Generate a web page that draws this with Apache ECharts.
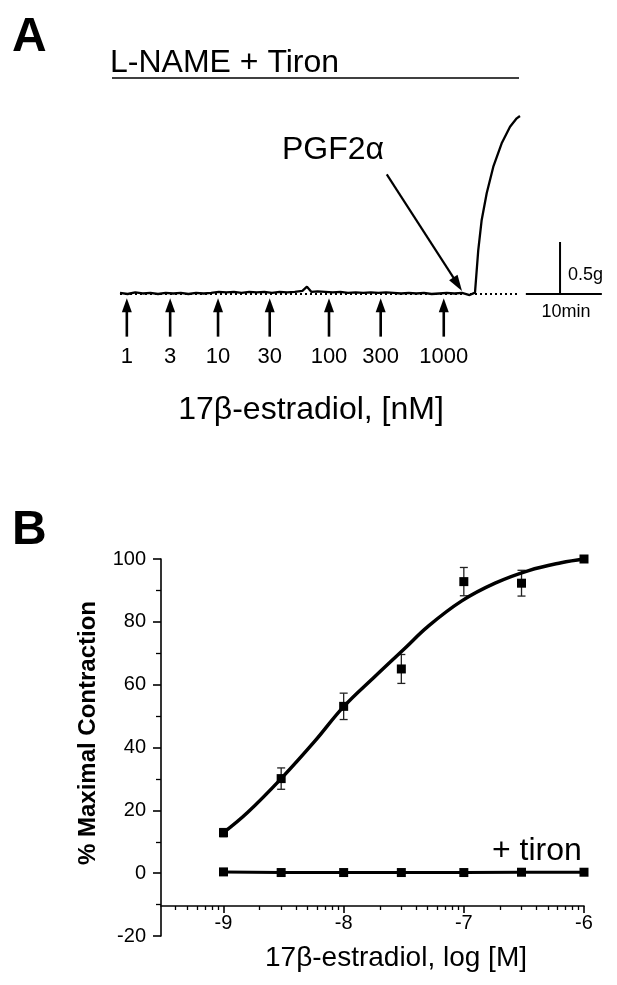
<!DOCTYPE html>
<html><head><meta charset="utf-8">
<script src="https://cdn.jsdelivr.net/npm/echarts@6/dist/echarts.min.js"></script>
<style>html,body{margin:0;padding:0;background:#fff}#c{width:617px;height:985px}</style>
</head><body><div id="c"></div>
<script>
// ---------- Panel A data (time in min, tension in g) ----------
const doseLabels = ['1', '3', '10', '30', '100', '300', '1000'];
const doseTimes = [0.9, 6.6, 12.9, 19.7, 27.5, 34.3, 42.6];
const traceT = [0,1,2,3,4,5,6,7,8,9,10,11,12,13,14,15,16,17,18,19,20,21,22,23,24,24.6,25.2,26,27,28,29,30,31,32,33,34,35,36,37,38,39,40,41,42,43,44,45,46,46.71,47.14,47.59,48.25,49.12,50.22,51.32,52.2,52.63];
const traceG = [0.01,0.0,0.015,0.005,0.01,0.0,0.01,0.005,0.01,0.0,0.01,0.005,0.01,0.02,0.015,0.02,0.01,0.02,0.015,0.02,0.01,0.02,0.015,0.02,0.03,0.07,0.02,0.025,0.02,0.015,0.02,0.01,0.015,0.01,0.015,0.01,0.015,0.01,0.005,0.01,0.005,0.01,0.0,0.005,0.01,0.005,0.01,-0.01,0.013,0.423,0.712,0.968,1.224,1.449,1.609,1.689,1.712];
const baselineEnd = 52.6;
const pgfTime = 45.0;
const pgfArrowFrom = [35.1, 1.15];
const scaleBarStart = 53.4, scaleBarMin = 10, scaleBarG = 0.5, scaleBarVertAt = 57.9;

// ---------- Panel B data ----------
const logConc = [-9, -8.52, -8, -7.52, -7, -6.52, -6];
const ctrlMean = [12.9, 30.1, 53.1, 65.0, 92.8, 92.3, 100.0];
const ctrlErr = [1.3, 3.4, 4.2, 4.6, 4.5, 4.1, 0];
const tironMean = [0.4, 0.2, 0.2, 0.2, 0.2, 0.3, 0.3];
const fitX = [-9, -8.8, -8.52, -8.24, -8, -7.74, -7.49, -7.3, -7.02, -6.74, -6.46, -6.19, -6];
const fitY = [12.9, 19.3, 30.1, 42.0, 53.0, 62.6, 71.6, 78.5, 86.6, 92.3, 96.3, 98.8, 100.0];
const xMajorTicks = [-9, -8, -7, -6];
const yTicks = [-20, 0, 20, 40, 60, 80, 100];

const FONT = "'Liberation Sans', Arial, Helvetica, sans-serif";
const xMinB = -9.52, xMaxB = -6;
const xMinorTicks = [];
for (let d = -10; d <= -7; d++) for (let k = 2; k <= 9; k++) {
  const v = Math.log10(k) + d;
  if (v > xMinB && v < xMaxB) xMinorTicks.push(v);
}

function arrow(api, from, to, headLen, headW, lw) {
  const p0 = api.coord(from), p1 = api.coord(to);
  const dx = p1[0] - p0[0], dy = p1[1] - p0[1], L = Math.hypot(dx, dy);
  const ux = dx / L, uy = dy / L;
  const bx = p1[0] - ux * headLen, by = p1[1] - uy * headLen;
  const nx = -uy, ny = ux;
  return { type: 'group', children: [
    { type: 'line', shape: { x1: p0[0], y1: p0[1], x2: bx + ux * 2, y2: by + uy * 2 }, style: { stroke: '#000', lineWidth: lw } },
    { type: 'polygon', shape: { points: [[p1[0], p1[1]], [bx + nx * headW / 2, by + ny * headW / 2], [bx - nx * headW / 2, by - ny * headW / 2]] }, style: { fill: '#000' } }
  ]};
}

const chart = echarts.init(document.getElementById('c'), null, { renderer: 'canvas' });
const option = {
  backgroundColor: '#fff',
  animation: false,
  textStyle: { fontFamily: FONT },
  grid: [
    { left: 120, right: 10.6, top: 106.8, bottom: 649.4 },
    { left: 161, right: 33, top: 559, bottom: 49 },
    { left: 161, right: 33, top: 559, bottom: 79 }
  ],
  xAxis: [
    { gridIndex: 0, type: 'value', min: 0, max: 64,
      axisLine: { show: false }, axisTick: { show: false }, splitLine: { show: false },
      axisLabel: { customValues: doseTimes, margin: 10, fontSize: 22, color: '#000', fontFamily: FONT,
        formatter: v => { let bi = 0; doseTimes.forEach((t, i) => { if (Math.abs(t - v) < Math.abs(doseTimes[bi] - v)) bi = i; }); return doseLabels[bi]; } } },
    { gridIndex: 1, type: 'value', min: xMinB, max: xMaxB, show: false },
    { gridIndex: 2, type: 'value', min: xMinB, max: xMaxB,
      axisLine: { show: true, onZero: false, lineStyle: { color: '#000', width: 1.6 } },
      axisTick: { show: true, customValues: xMajorTicks, length: 7, lineStyle: { color: '#000', width: 1.6 } },
      axisLabel: { customValues: xMajorTicks, fontSize: 20, color: '#000', margin: 7, fontFamily: FONT },
      splitLine: { show: false } },
    { gridIndex: 2, type: 'value', min: xMinB, max: xMaxB, position: 'bottom',
      axisLine: { show: false },
      axisTick: { show: true, customValues: xMinorTicks, length: 4, lineStyle: { color: '#000', width: 1.3 } },
      axisLabel: { show: false }, splitLine: { show: false } }
  ],
  yAxis: [
    { gridIndex: 0, type: 'value', min: -0.4, max: 1.8, show: false },
    { gridIndex: 1, type: 'value', min: -20, max: 100, interval: 20,
      axisLine: { show: true, lineStyle: { color: '#000', width: 1.6 } },
      axisTick: { show: true, length: 8, lineStyle: { color: '#000', width: 1.6 } },
      minorTick: { show: true, splitNumber: 2, length: 5, lineStyle: { color: '#000', width: 1.3 } },
      axisLabel: { fontSize: 20, color: '#000', margin: 15, fontFamily: FONT },
      splitLine: { show: false } },
    { gridIndex: 2, type: 'value', min: 0, max: 1, show: false }
  ],
  graphic: [
    { type: 'text', left: 12, top: 14, style: { text: 'A', font: 'bold 48px ' + FONT, fill: '#000' } },
    { type: 'text', left: 12, top: 507, style: { text: 'B', font: 'bold 48px ' + FONT, fill: '#000' } },
    { type: 'text', x: 110, y: 63, style: { text: 'L-NAME + Tiron', font: '32px ' + FONT, fill: '#000', verticalAlign: 'middle' } },
    { type: 'line', shape: { x1: 112, y1: 78, x2: 519, y2: 78 }, style: { stroke: '#000', lineWidth: 1.6 } },
    { type: 'text', x: 282, y: 150, style: { text: 'PGF2α', font: '32px ' + FONT, fill: '#000', verticalAlign: 'middle' } },
    { type: 'text', x: 311, y: 410, style: { text: '17β-estradiol, [nM]', font: '32px ' + FONT, fill: '#000', align: 'center', verticalAlign: 'middle' } },
    { type: 'text', x: 568, y: 275, style: { text: '0.5g', font: '18px ' + FONT, fill: '#000', verticalAlign: 'middle' } },
    { type: 'text', x: 566, y: 312, style: { text: '10min', font: '18px ' + FONT, fill: '#000', align: 'center', verticalAlign: 'middle' } },
    { type: 'text', x: 396, y: 958, style: { text: '17β-estradiol, log [M]', font: '28px ' + FONT, fill: '#000', align: 'center', verticalAlign: 'middle' } },
    { type: 'text', x: 88, y: 733, rotation: Math.PI / 2, style: { text: '% Maximal Contraction', font: 'bold 24px ' + FONT, fill: '#000', align: 'center', verticalAlign: 'middle' } },
    { type: 'text', x: 492, y: 851, style: { text: '+ tiron', font: '32px ' + FONT, fill: '#000', verticalAlign: 'middle' } }
  ],
  series: [
    // Panel A: dotted baseline
    { type: 'line', xAxisIndex: 0, yAxisIndex: 0, data: [[0, 0], [baselineEnd, 0]], showSymbol: false, silent: true,
      lineStyle: { color: '#000', width: 2, type: [2, 3] } },
    // Panel A: tension trace
    { type: 'line', xAxisIndex: 0, yAxisIndex: 0, data: traceT.map((t, i) => [t, traceG[i]]), showSymbol: false,
      lineStyle: { color: '#000', width: 2.3 } },
    // scale bar horizontal (10 min)
    { type: 'line', xAxisIndex: 0, yAxisIndex: 0, data: [[scaleBarStart, 0], [scaleBarStart + scaleBarMin, 0]], showSymbol: false,
      lineStyle: { color: '#000', width: 2 } },
    // scale bar vertical (0.5 g)
    { type: 'line', xAxisIndex: 0, yAxisIndex: 0, data: [[scaleBarVertAt, 0], [scaleBarVertAt, scaleBarG]], showSymbol: false,
      lineStyle: { color: '#000', width: 2 } },
    // dose arrows
    { type: 'custom', xAxisIndex: 0, yAxisIndex: 0, data: doseTimes.map(t => [t, 0]),
      renderItem: (p, api) => arrow(api, [api.value(0), -0.41], [api.value(0), -0.04], 14, 10, 2.6) },
    // PGF2a arrow
    { type: 'custom', xAxisIndex: 0, yAxisIndex: 0, data: [[pgfArrowFrom[0], pgfArrowFrom[1], pgfTime, 0.03]],
      renderItem: (p, api) => arrow(api, [api.value(0), api.value(1)], [api.value(2), api.value(3)], 16, 10, 2.2) },

    // Panel B: fitted curve
    { type: 'line', xAxisIndex: 1, yAxisIndex: 1, data: fitX.map((x, i) => [x, fitY[i]]), smooth: 0.4, showSymbol: false,
      lineStyle: { color: '#000', width: 3.5 } },
    // error bars
    { type: 'custom', xAxisIndex: 1, yAxisIndex: 1,
      data: logConc.map((x, i) => [x, ctrlMean[i] - ctrlErr[i], ctrlMean[i] + ctrlErr[i]]).filter((d, i) => ctrlErr[i] > 0),
      renderItem: (p, api) => {
        const lo = api.coord([api.value(0), api.value(1)]), hi = api.coord([api.value(0), api.value(2)]);
        const w = 4, st = { stroke: '#222', lineWidth: 1.3 };
        return { type: 'group', children: [
          { type: 'line', shape: { x1: lo[0], y1: lo[1], x2: hi[0], y2: hi[1] }, style: st },
          { type: 'line', shape: { x1: lo[0] - w, y1: lo[1], x2: lo[0] + w, y2: lo[1] }, style: st },
          { type: 'line', shape: { x1: hi[0] - w, y1: hi[1], x2: hi[0] + w, y2: hi[1] }, style: st }
        ]};
      } },
    // control means
    { type: 'scatter', xAxisIndex: 1, yAxisIndex: 1, data: logConc.map((x, i) => [x, ctrlMean[i]]),
      symbol: 'rect', symbolSize: 9, itemStyle: { color: '#000', opacity: 1 } },
    // + tiron
    { type: 'line', xAxisIndex: 1, yAxisIndex: 1, data: logConc.map((x, i) => [x, tironMean[i]]),
      symbol: 'rect', symbolSize: 9, showSymbol: true, showAllSymbol: true,
      itemStyle: { color: '#000', opacity: 1 }, lineStyle: { color: '#000', width: 3 } }
  ]
};
chart.setOption(option);
</script>
</body></html>
